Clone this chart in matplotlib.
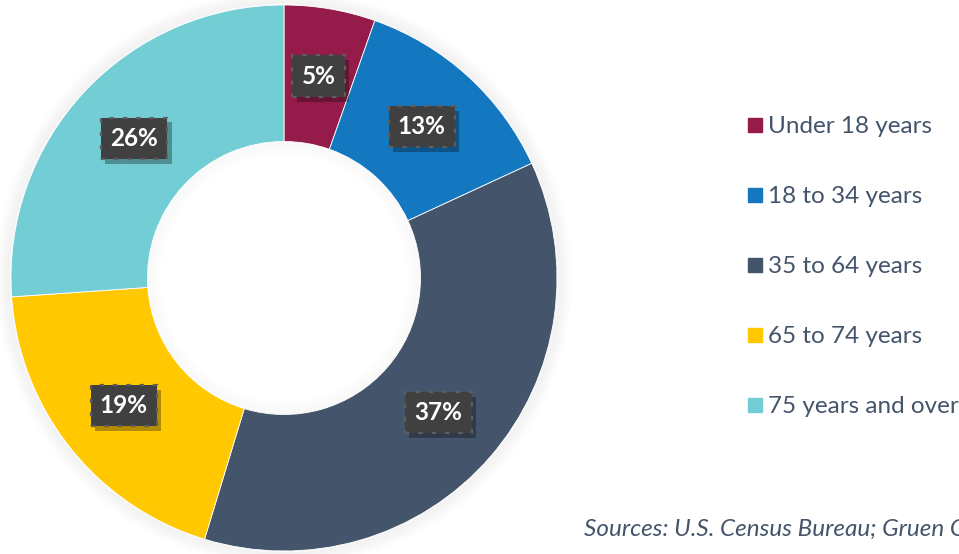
import matplotlib
matplotlib.use("Agg")
import matplotlib.pyplot as plt
from matplotlib.lines import Line2D
from matplotlib.patches import Circle
import matplotlib.patheffects as pe
import numpy as np

# Population share by age group (percent)
age_groups = ["Under 18 years", "18 to 34 years", "35 to 64 years",
              "65 to 74 years", "75 years and over"]
shares = [5.4, 12.7, 36.6, 19.2, 26.1]
colors = ["#951B4B", "#1378C0", "#44546A", "#FFC800", "#72CDD4"]
source_note = "Sources: U.S. Census Bureau; Gruen Gruen + Associates"

text_color = "#44546A"
plt.rcParams["font.family"] = ["Lato", "DejaVu Sans"]

W, H = 959, 554
fig = plt.figure(figsize=(W / 100, H / 100), dpi=100)
fig.patch.set_facecolor("white")

# ring centre and outer radius in pixels; axes spans 2.2 data units
cx, cy, R = 284, 278, 273
lim = 1.1
ax = fig.add_axes([(cx - R * lim) / W, (H - cy - R * lim) / H,
                   2 * R * lim / W, 2 * R * lim / H])

# soft glow around the ring
for i in range(14):
    r = 1.0 + 0.004 * (i + 1)
    ax.add_patch(Circle((0, 0), r, fc="none", ec="#000000",
                        lw=2.2, alpha=0.02 * (14 - i) / 14, zorder=0))

wedges, _ = ax.pie(shares, colors=colors, startangle=90, counterclock=False,
                   radius=1.0, wedgeprops=dict(width=0.5, edgecolor="white",
                                               linewidth=0.6))
ax.set_xlim(-lim, lim)
ax.set_ylim(-lim, lim)
ax.set_aspect("equal")
ax.axis("off")

# faint inner shading of the hole
for i in range(10):
    r = 0.5 - 0.005 * (i + 1)
    ax.add_patch(Circle((0, 0), r, fc="none", ec="#000000",
                        lw=2.2, alpha=0.012 * (10 - i) / 10, zorder=3))

total = sum(shares)
start = 90.0
for val in shares:
    sweep = 360.0 * val / total
    mid = np.deg2rad(start - sweep / 2)
    x, y = 0.75 * np.cos(mid), 0.75 * np.sin(mid)
    t = ax.text(x, y, f"{val:.0f}%", ha="center", va="center", color="white",
                fontsize=17.5, fontweight="bold", zorder=6,
                bbox=dict(boxstyle="square,pad=0.38", fc="#404040",
                          ec="#5e5e5e", lw=1.6, ls=(0, (2, 4))))
    t.get_bbox_patch().set_path_effects(
        [pe.SimplePatchShadow(offset=(3, -3.5), shadow_rgbFace="black", alpha=0.3),
         pe.Normal()])
    start -= sweep

handles = [Line2D([], [], marker="s", ls="", color=c, markersize=9.5)
           for c in colors]
leg = fig.legend(handles, age_groups, loc="upper left",
                 bbox_to_anchor=(749 / W, 1 - 116 / H), frameon=False,
                 fontsize=17.5, labelcolor=text_color, handlelength=0.5,
                 handletextpad=0.3, labelspacing=2.02, borderaxespad=0,
                 borderpad=0)

fig.text(584 / W, 1 - 529 / H, source_note, fontsize=17.5, style="italic",
         color=text_color, ha="left", va="center")

fig.savefig("out.png", dpi=100, facecolor="white")
